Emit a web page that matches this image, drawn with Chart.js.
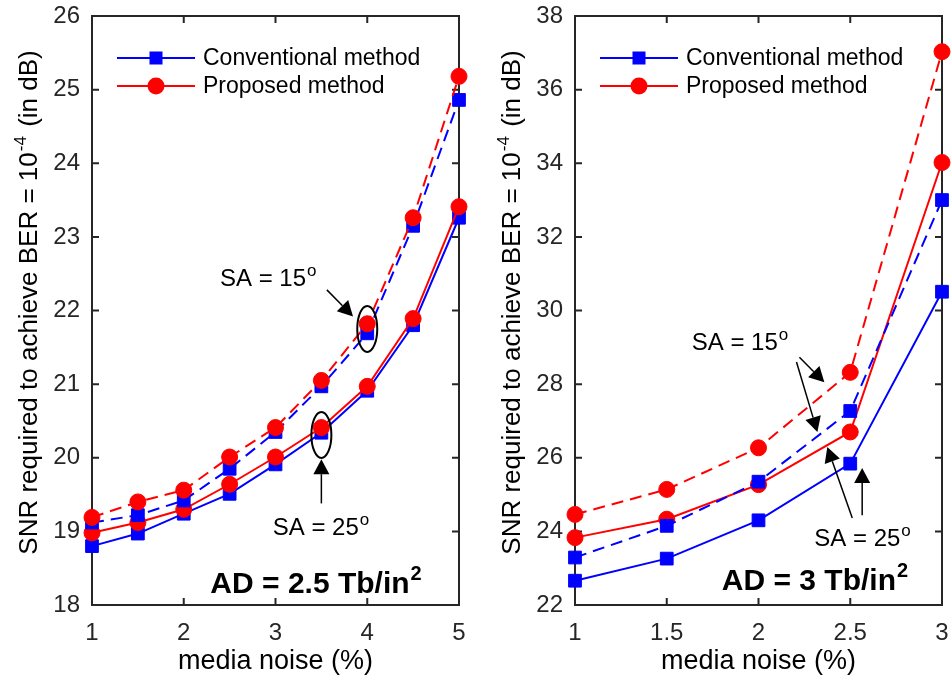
<!DOCTYPE html>
<html>
<head>
<meta charset="utf-8">
<script src="https://cdn.jsdelivr.net/npm/chart.js@4.4.0/dist/chart.umd.min.js"></script>
<style>
html, body { margin: 0; padding: 0; background: #fff; }
#wrap { position: relative; width: 952px; height: 681px; overflow: hidden; }
canvas { position: absolute; top: 0; }
#c1 { left: 0; }
#c2 { left: 470px; }
</style>
</head>
<body>
<div id="wrap">
  <canvas id="c1" width="470" height="681"></canvas>
  <canvas id="c2" width="482" height="681"></canvas>
</div>
<script>
var FONT = '"Liberation Sans", Arial, Helvetica, sans-serif';
var BLUE = '#0000ff', RED = '#ff0000', AXIS = '#262626';

// left panel: AD = 2.5 Tb/in^2
var noiseA = [1, 1.5, 2, 2.5, 3, 3.5, 4, 4.5, 5];
var convA25 = [18.80, 18.97, 19.24, 19.51, 19.91, 20.34, 20.91, 21.80, 23.26];
var propA25 = [18.98, 19.12, 19.30, 19.64, 20.01, 20.41, 20.97, 21.89, 23.41];
var convA15 = [19.12, 19.22, 19.42, 19.85, 20.35, 20.97, 21.69, 23.15, 24.86];
var propA15 = [19.19, 19.40, 19.56, 20.01, 20.41, 21.05, 21.82, 23.26, 25.18];
var xTicksA = [1, 2, 3, 4, 5];
var yTicksA = [18, 19, 20, 21, 22, 23, 24, 25, 26];

// right panel: AD = 3 Tb/in^2
var noiseB = [1, 1.5, 2, 2.5, 3];
var convB25 = [22.66, 23.26, 24.30, 25.84, 30.51];
var convB15 = [23.29, 24.15, 25.35, 27.27, 33.00];
var propB25 = [23.83, 24.33, 25.27, 26.70, 34.02];
var propB15 = [24.46, 25.14, 26.27, 28.32, 37.03];
var xTicksB = [1, 1.5, 2, 2.5, 3];
var yTicksB = [22, 24, 26, 28, 30, 32, 34, 36, 38];

var legendItems = [
  { label: 'Conventional method', color: BLUE, style: 'rect' },
  { label: 'Proposed method', color: RED, style: 'circle' }
];

function series(label, xs, ys, color, dashed, style, order) {
  return {
    label: label,
    data: xs.map(function(x, i) { return { x: x, y: ys[i] }; }),
    borderColor: color,
    backgroundColor: color,
    borderWidth: 2,
    borderDash: dashed ? [12, 7] : [],
    pointStyle: style,
    pointRadius: style === 'rect' ? 9 : 8,
    pointBorderWidth: 1,
    pointBackgroundColor: color,
    pointBorderColor: color,
    tension: 0,
    clip: false,
    order: order
  };
}

// draw a row of text pieces (for superscripts), baseline at y
function drawParts(ctx, x, y, parts) {
  var cx = x;
  parts.forEach(function(p) {
    ctx.font = p.font;
    ctx.fillText(p.t, cx + (p.dx || 0), y - (p.rise || 0));
    cx += ctx.measureText(p.t).width + (p.dx || 0);
  });
  return cx - x;
}
function partsWidth(ctx, parts) {
  var w = 0;
  parts.forEach(function(p) { ctx.font = p.font; w += ctx.measureText(p.t).width + (p.dx || 0); });
  return w;
}

function arrow(ctx, x1, y1, x2, y2) {
  var a = Math.atan2(y2 - y1, x2 - x1), hl = 15, hw = 8;
  var bx = x2 - hl * Math.cos(a), by = y2 - hl * Math.sin(a);
  ctx.beginPath();
  ctx.moveTo(x1, y1);
  ctx.lineTo(bx, by);
  ctx.lineWidth = 1.5;
  ctx.stroke();
  ctx.beginPath();
  ctx.moveTo(x2, y2);
  ctx.lineTo(bx + hw * Math.sin(a), by - hw * Math.cos(a));
  ctx.lineTo(bx - hw * Math.sin(a), by + hw * Math.cos(a));
  ctx.closePath();
  ctx.fill();
}

function saParts(deg) {
  return [
    { t: 'SA = ' + deg, font: '24px ' + FONT },
    { t: 'o', font: '17px ' + FONT, rise: 10, dx: 1 }
  ];
}

function panelPlugin(p) {
  return {
    id: 'panel',
    beforeDatasetsDraw: function(chart) {
      var ctx = chart.ctx, a = chart.chartArea;
      var xs = chart.scales.x, ys = chart.scales.y, tl = 7;
      ctx.save();
      ctx.strokeStyle = AXIS;
      ctx.lineWidth = 2;
      ctx.strokeRect(a.left, a.top, a.right - a.left, a.bottom - a.top);
      ctx.beginPath();
      xs.ticks.forEach(function(t) {
        var px = xs.getPixelForValue(t.value);
        ctx.moveTo(px, a.bottom); ctx.lineTo(px, a.bottom - tl);
        ctx.moveTo(px, a.top); ctx.lineTo(px, a.top + tl);
      });
      ys.ticks.forEach(function(t) {
        var py = ys.getPixelForValue(t.value);
        ctx.moveTo(a.left, py); ctx.lineTo(a.left + tl, py);
        ctx.moveTo(a.right, py); ctx.lineTo(a.right - tl, py);
      });
      ctx.stroke();
      ctx.restore();
    },
    afterDatasetsDraw: function(chart) {
      var ctx = chart.ctx, a = chart.chartArea;
      var xs = chart.scales.x, ys = chart.scales.y;
      function X(v) { return xs.getPixelForValue(v); }
      function Y(v) { return ys.getPixelForValue(v); }
      ctx.save();
      ctx.fillStyle = '#000';
      ctx.strokeStyle = '#000';
      ctx.textBaseline = 'alphabetic';
      ctx.textAlign = 'left';

      // legend
      legendItems.forEach(function(it, i) {
        var ly = a.top + 42 + i * 28, lx = a.left + 25;
        ctx.strokeStyle = it.color;
        ctx.fillStyle = it.color;
        ctx.lineWidth = 2;
        ctx.beginPath(); ctx.moveTo(lx, ly); ctx.lineTo(lx + 78, ly); ctx.stroke();
        if (it.style === 'rect') {
          ctx.fillRect(lx + 39 - 6.5, ly - 6.5, 13, 13);
        } else {
          ctx.beginPath(); ctx.arc(lx + 39, ly, 8.5, 0, Math.PI * 2); ctx.fill();
        }
        ctx.fillStyle = '#000';
        ctx.font = '23px ' + FONT;
        ctx.textBaseline = 'middle';
        ctx.fillText(it.label, lx + 86, ly + 1);
        ctx.textBaseline = 'alphabetic';
      });

      // annotations
      ctx.fillStyle = '#000';
      ctx.strokeStyle = '#000';
      p.texts.forEach(function(t) {
        drawParts(ctx, X(t.x), Y(t.y) + 8, saParts(t.deg));
      });
      p.arrows.forEach(function(r) { arrow(ctx, X(r[0]), Y(r[1]), X(r[2]), Y(r[3])); });
      p.ellipses.forEach(function(e) {
        ctx.beginPath();
        ctx.lineWidth = 2;
        ctx.ellipse(X(e[0]), Y(e[1]), 10, 23, 0, 0, Math.PI * 2);
        ctx.stroke();
      });
      drawParts(ctx, X(p.ad.x), Y(p.ad.y), [
        { t: p.ad.text, font: 'bold 30px ' + FONT },
        { t: '2', font: 'bold 20px ' + FONT, rise: 13, dx: 1 }
      ]);

      // axis titles
      ctx.font = '27px ' + FONT;
      ctx.textAlign = 'center';
      ctx.fillText('media noise (%)', (a.left + a.right) / 2, 669);
      ctx.textAlign = 'left';
      var yt = [
        { t: 'SNR required to achieve BER = 10', font: '26px ' + FONT },
        { t: '-4', font: '17px ' + FONT, rise: 11, dx: 1 },
        { t: ' (in dB)', font: '26px ' + FONT, dx: 2 }
      ];
      ctx.translate(a.left - 55, (a.top + a.bottom) / 2 - 8);
      ctx.rotate(-Math.PI / 2);
      drawParts(ctx, -partsWidth(ctx, yt) / 2, 0, yt);
      ctx.restore();
    }
  };
}

function makeChart(id, xs, s, xTicks, yTicks, left, rightPad, p) {
  return new Chart(document.getElementById(id), {
    type: 'line',
    data: {
      datasets: [
        series('Proposed, SA = 15', xs, s.p15, RED, true, 'circle', 0),
        series('Conventional, SA = 15', xs, s.c15, BLUE, true, 'rect', 1),
        series('Proposed, SA = 25', xs, s.p25, RED, false, 'circle', 2),
        series('Conventional, SA = 25', xs, s.c25, BLUE, false, 'rect', 3)
      ]
    },
    options: {
      responsive: false,
      animation: false,
      layout: { padding: { top: 16, right: rightPad, left: 0, bottom: 0 } },
      plugins: { legend: { display: false }, tooltip: { enabled: false } },
      scales: {
        x: {
          type: 'linear',
          min: xTicks[0], max: xTicks[xTicks.length - 1],
          grid: { display: false, drawTicks: false },
          border: { display: false },
          afterBuildTicks: function(sc) { sc.ticks = xTicks.map(function(v) { return { value: v }; }); },
          afterFit: function(sc) {
            sc.height = 76;
            sc.paddingLeft = 0; sc.paddingRight = 0; sc.paddingTop = 0; sc.paddingBottom = 0;
          },
          ticks: { autoSkip: false, maxRotation: 0, padding: 14, color: '#262626',
                   font: { family: FONT, size: 24 },
                   callback: function(v) { return String(v); } }
        },
        y: {
          min: yTicks[0], max: yTicks[yTicks.length - 1],
          grid: { display: false, drawTicks: false },
          border: { display: false },
          afterBuildTicks: function(sc) { sc.ticks = yTicks.map(function(v) { return { value: v }; }); },
          afterFit: function(sc) {
            sc.width = left;
            sc.paddingLeft = 0; sc.paddingRight = 0; sc.paddingTop = 0; sc.paddingBottom = 0;
          },
          ticks: { autoSkip: false, padding: 12, color: '#262626',
                   font: { family: FONT, size: 24 },
                   callback: function(v) { return String(v); } }
        }
      }
    },
    plugins: [panelPlugin(p)]
  });
}

makeChart('c1', noiseA, { c25: convA25, p25: propA25, c15: convA15, p15: propA15 },
  xTicksA, yTicksA, 92, 11, {
    texts: [{ x: 2.395, y: 22.44, deg: 15 }, { x: 2.97, y: 19.06, deg: 25 }],
    arrows: [[3.56, 22.28, 3.845, 21.92], [3.5, 19.38, 3.5, 19.98]],
    ellipses: [[4.0, 21.75], [3.5, 20.31]],
    ad: { x: 2.29, y: 18.16, text: 'AD = 2.5 Tb/in' }
  });

makeChart('c2', noiseB, { c25: convB25, p25: propB25, c15: convB15, p15: propB15 },
  xTicksB, yTicksB, 105, 9, {
    texts: [{ x: 1.636, y: 29.14, deg: 15 }, { x: 2.304, y: 23.82, deg: 25 }],
    arrows: [[2.223, 28.73, 2.359, 28.05], [2.207, 28.60, 2.321, 26.70],
             [2.511, 24.36, 2.375, 26.29], [2.565, 24.44, 2.565, 25.72]],
    ellipses: [],
    ad: { x: 1.80, y: 22.40, text: 'AD = 3 Tb/in' }
  });
</script>
</body>
</html>
